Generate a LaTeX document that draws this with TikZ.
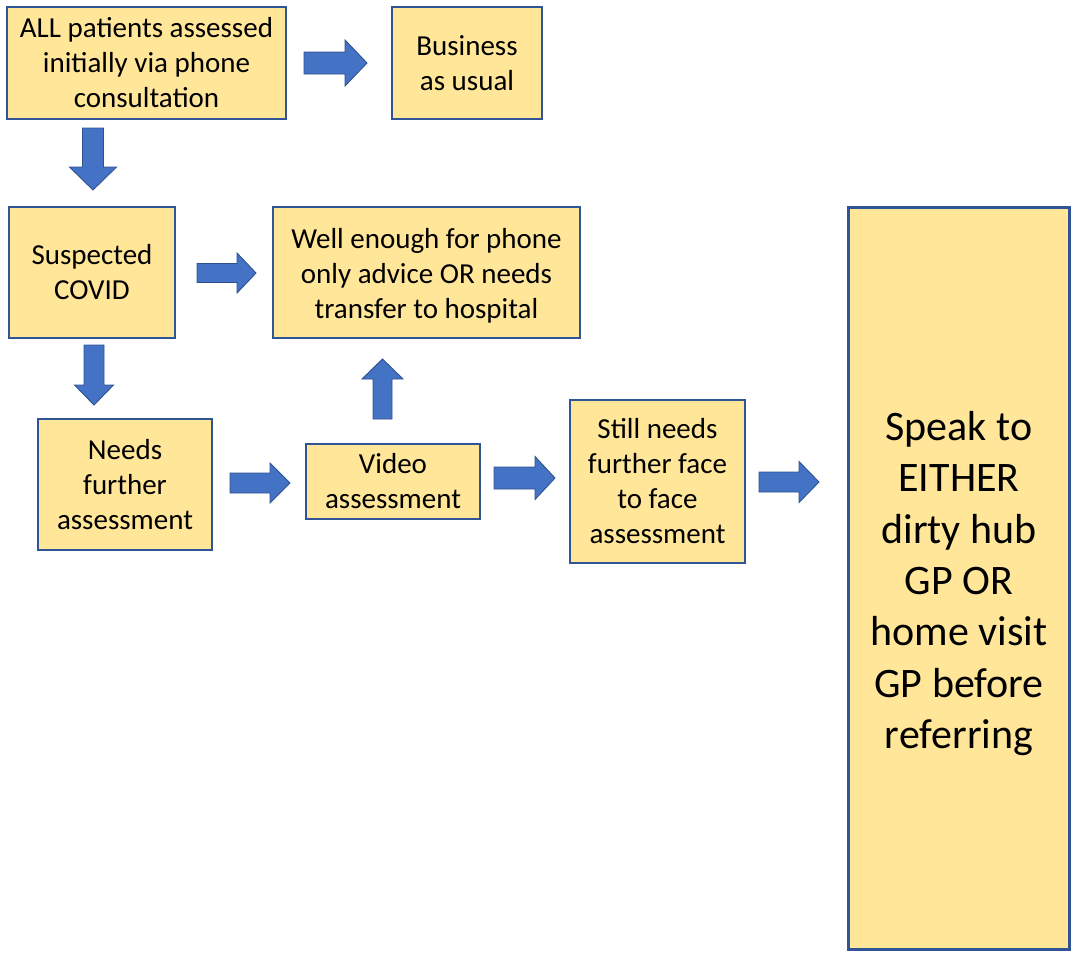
\documentclass[tikz,border=0pt]{standalone}
\usepackage{fontspec}
\setmainfont{Carlito}
\definecolor{boxfill}{HTML}{FFE699}
\definecolor{boxline}{HTML}{2F5597}
\definecolor{arrfill}{HTML}{4472C4}
\definecolor{arrline}{HTML}{2F528F}
\newcommand\harrow[6]{\draw[arr] (#1,#4-#5) -- (#2,#4-#5) -- (#2,#4-#6) -- (#3,#4) -- (#2,#4+#6) -- (#2,#4+#5) -- (#1,#4+#5) -- cycle;}
\newcommand\varrow[6]{\draw[arr] (#4-#5,#1) -- (#4-#5,#2) -- (#4-#6,#2) -- (#4,#3) -- (#4+#6,#2) -- (#4+#5,#2) -- (#4+#5,#1) -- cycle;}
\begin{document}
\begin{tikzpicture}[x=1pt,y=-1pt,
  box/.style={draw=boxline, line width=1.3pt, fill=boxfill, align=center, inner sep=0pt,
    font=\fontsize{29}{35}\selectfont},
  txt/.style={align=center, inner sep=0pt, font=\fontsize{29}{35}\selectfont},
  bigbox/.style={draw=boxline, line width=3pt, fill=boxfill, inner sep=0pt},
  bigtxt/.style={align=center, inner sep=0pt, font=\fontsize{42}{51.3}\selectfont},
  arr/.style={draw=arrline, line width=0.9pt, fill=arrfill, line join=miter}]
\useasboundingbox (0,0) rectangle (1071,956);
\node[box, minimum width=279pt, minimum height=112pt] (n1) at (146.5,63) {ALL patients assessed\\initially via phone\\consultation};
\node[box, minimum width=150pt, minimum height=112pt] (n2) at (467,63) {Business\\as usual};
\node[box, minimum width=166pt, minimum height=131pt] (n3) at (92,272.5) {Suspected\\COVID};
\node[box, minimum width=307pt, minimum height=131pt] (n4) at (426.5,272.5) {};
\node[txt] (n4t) at ([yshift=-3pt]n4.center) {Well enough for phone\\only advice OR needs\\transfer to hospital};
\node[box, minimum width=174pt, minimum height=131pt] (n5) at (125,484.5) {Needs\\further\\assessment};
\node[box, minimum width=174pt, minimum height=75pt] (n6) at (393,481.5) {Video\\assessment};
\node[box, minimum width=175pt, minimum height=163pt] (n7) at (657.5,481.5) {Still needs\\further face\\to face\\assessment};
\node[bigbox, minimum width=221pt, minimum height=742pt] (n8) at (959,578.5) {};
\node[bigtxt] (n8t) at ([yshift=-5pt]n8.center) {Speak to\\EITHER\\dirty hub\\GP OR\\home visit\\GP before\\referring};
\harrow{304}{345}{367}{63}{11}{23}
\harrow{197}{237}{256}{273}{9.5}{20}
\harrow{230}{270}{290}{483}{10}{20}
\harrow{494}{535}{555}{478}{11}{21.5}
\harrow{759}{799}{819}{482}{10}{20.5}
\varrow{128}{167}{190}{93}{10.5}{23.5}
\varrow{345}{385}{405}{94}{10}{19.5}
\varrow{419}{379}{359}{382.5}{9.5}{20.5}
\end{tikzpicture}
\end{document}
